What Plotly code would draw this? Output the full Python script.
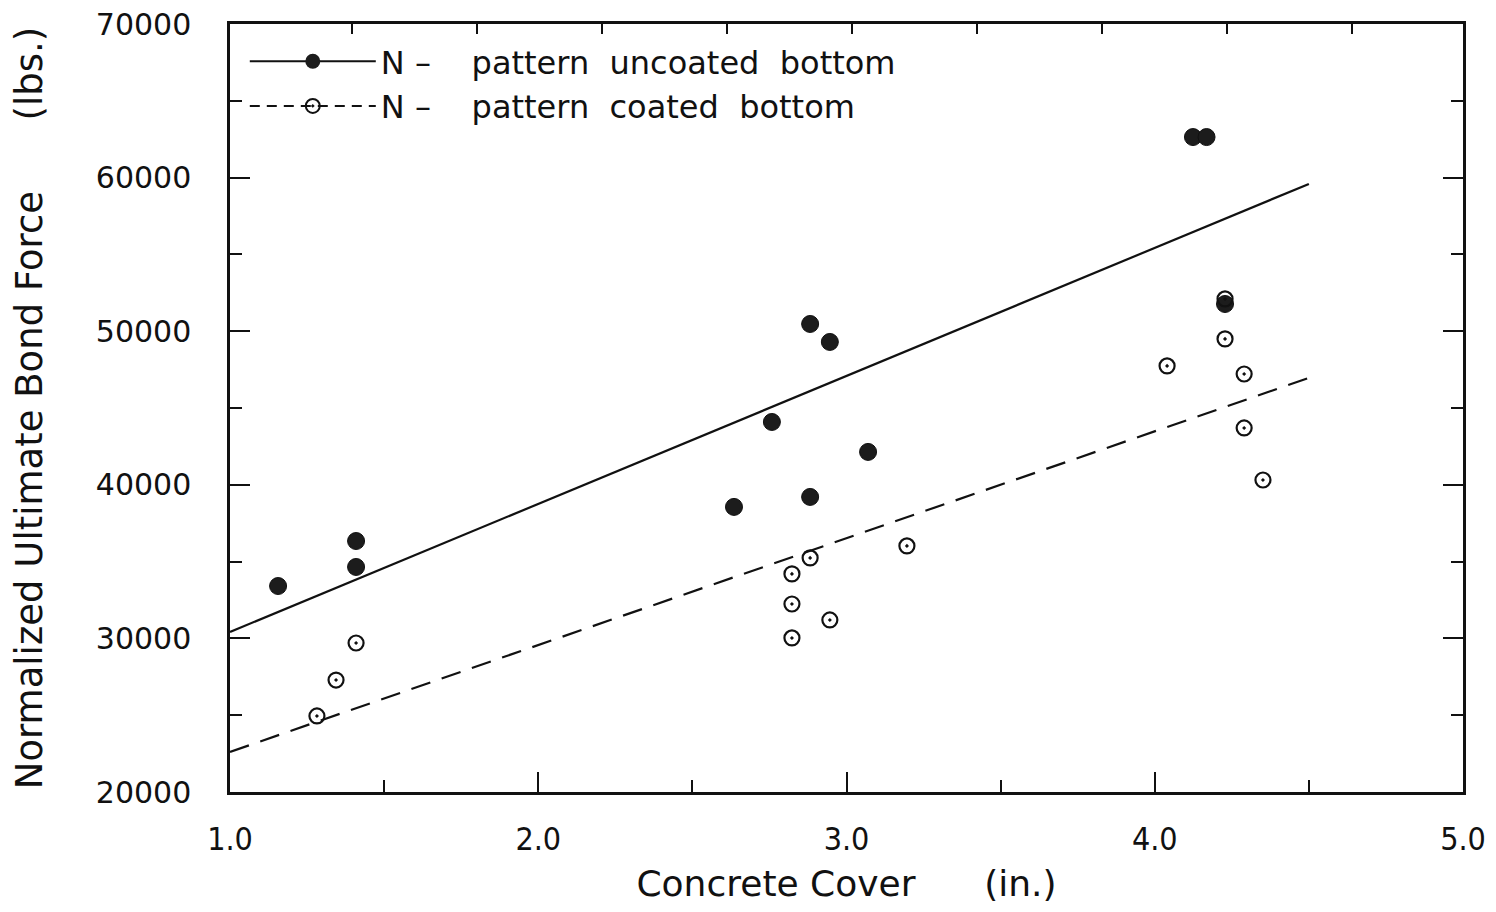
import plotly.graph_objects as go

# ---- data ----
uncoated_x = [1.156, 1.409, 1.409, 2.635, 2.758, 2.882, 2.946, 2.882, 3.070, 4.124, 4.168, 4.228]
uncoated_y = [33410, 36340, 34650, 38560, 44090, 50470, 49300, 39210, 42140, 62640, 62640, 51770]

coated_x = [1.282, 1.344, 1.409, 2.823, 2.823, 2.823, 2.882, 2.946, 3.196, 4.040, 4.228, 4.228, 4.290, 4.290, 4.351]
coated_y = [24950, 27290, 29700, 34200, 32240, 30030, 35240, 31200, 36020, 47740, 52100, 49500, 47215, 43700, 40314]

fit_x = [1.0, 4.5]
uncoated_fit = [30420, 59590]
coated_fit = [22610, 46960]

NB = "\u00a0"
legend_labels = [f"N{NB}–{NB * 4}pattern{NB * 2}uncoated{NB * 2}bottom",
                 f"N{NB}–{NB * 4}pattern{NB * 2}coated{NB * 2}bottom"]
x_title = "Concrete" + NB + "Cover" + NB * 6 + "(in.)"
y_title = "Normalized" + NB + "Ultimate" + NB + "Bond" + NB + "Force" + NB * 6 + "(lbs.)"

COND = "DejaVu Sans Condensed, DejaVu Sans, sans-serif"
SANS = "DejaVu Sans, sans-serif"
INK = "#111111"

fig = go.Figure()

# regression lines
fig.add_trace(go.Scatter(x=fit_x, y=uncoated_fit, mode="lines",
                         line=dict(color=INK, width=2.2), showlegend=False))
fig.add_trace(go.Scatter(x=fit_x, y=coated_fit, mode="lines",
                         line=dict(color=INK, width=2.2, dash="20px,12px"), showlegend=False))

# data points
fig.add_trace(go.Scatter(x=uncoated_x, y=uncoated_y, mode="markers",
                         marker=dict(symbol="circle", size=17, color="#1c1c1c",
                                     line=dict(color=INK, width=1)),
                         showlegend=False))
fig.add_trace(go.Scatter(x=coated_x, y=coated_y, mode="markers",
                         marker=dict(symbol="circle-open-dot", size=15, color=INK,
                                     line=dict(color=INK, width=2.2)),
                         showlegend=False))

# legend entries
fig.add_trace(go.Scatter(x=[None], y=[None], mode="lines+markers", name=legend_labels[0],
                         marker=dict(symbol="circle", size=15, color="#1c1c1c"),
                         line=dict(color=INK, width=2)))
fig.add_trace(go.Scatter(x=[None], y=[None], mode="lines+markers", name=legend_labels[1],
                         marker=dict(symbol="circle-open-dot", size=14, color=INK,
                                     line=dict(color=INK, width=2)),
                         line=dict(color=INK, width=2, dash="10px,7px")))

# dummy trace for the top tick axis
fig.add_trace(go.Scatter(x=[None], y=[None], xaxis="x2", showlegend=False))

fig.update_layout(
    width=1480, height=896,
    margin=dict(l=222, r=25, t=16, b=112, autoexpand=False),
    paper_bgcolor="white", plot_bgcolor="white",
    showlegend=True,
    legend=dict(x=0.012, y=0.987, xanchor="left", yanchor="top",
                bgcolor="rgba(0,0,0,0)", borderwidth=0,
                font=dict(family=SANS, size=32, color=INK),
                itemwidth=126, tracegroupgap=0),
    xaxis=dict(range=[1, 5], dtick=1, tick0=1, tickformat=".1f",
               ticks="inside", ticklen=20, tickwidth=2, tickcolor=INK,
               minor=dict(dtick=0.5, ticks="inside", ticklen=12, tickwidth=2, tickcolor=INK),
               showline=True, linewidth=2.5, linecolor=INK, mirror=True,
               showgrid=False, zeroline=False, automargin=False,
               ticklabelstandoff=17, ticklabeloverflow="allow",
               tickfont=dict(family=COND, size=32, color=INK),
               title=dict(text=x_title, font=dict(family=SANS, size=36, color=INK), standoff=16)),
    xaxis2=dict(range=[1, 5], overlaying="x", side="top", anchor="y",
                tick0=1.396, dtick=0.4055, ticks="inside", ticklen=10, tickwidth=2,
                tickcolor=INK, showticklabels=False, showgrid=False, zeroline=False,
                showline=False, automargin=False),
    yaxis=dict(range=[20000, 70000], dtick=10000, tick0=20000, tickformat="d",
               ticks="inside", ticklen=20, tickwidth=2, tickcolor=INK,
               minor=dict(dtick=5000, ticks="inside", ticklen=12, tickwidth=2, tickcolor=INK),
               showline=True, linewidth=2.5, linecolor=INK, mirror="ticks",
               showgrid=False, zeroline=False, automargin=False,
               ticklabelstandoff=30, ticklabeloverflow="allow",
               tickfont=dict(family=SANS, size=30, color=INK),
               title=dict(text=y_title, font=dict(family=SANS, size=37, color=INK), standoff=46)),
)

fig.write_html("out.html")
